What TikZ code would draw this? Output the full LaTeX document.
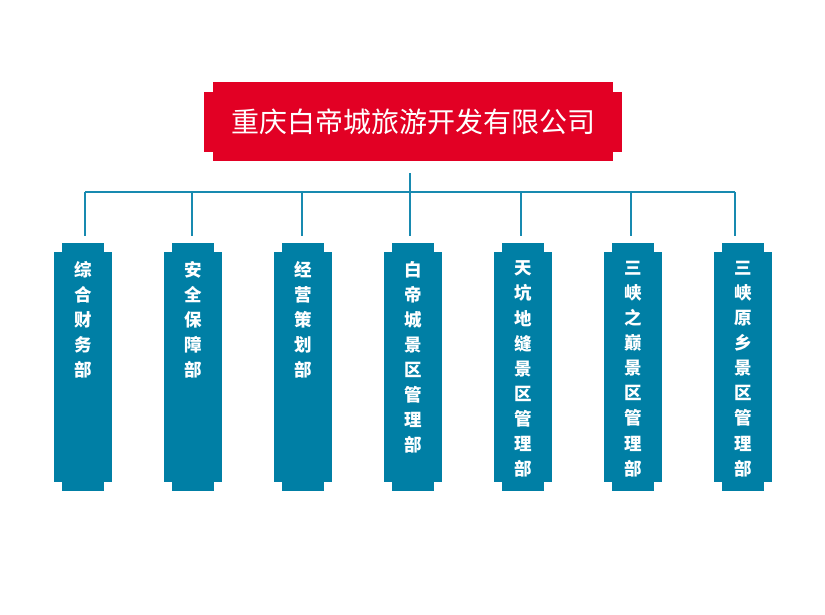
\documentclass[tikz,border=0pt]{standalone}
\usepackage{fontspec}
\setmainfont{Noto Sans CJK SC}
\usetikzlibrary{positioning,calc,backgrounds}
\definecolor{headred}{RGB}{226,0,36}
\definecolor{deptblue}{RGB}{0,127,165}
\definecolor{linkblue}{RGB}{24,138,176}
\tikzset{
    % company box
    head/.style={
           fill=headred,
           text=white,
           inner sep=0pt,
           minimum width=400pt,
           minimum height=79pt,
           font=\fontsize{28}{30}\selectfont},
    % department boxes
    dept/.style={
           fill=deptblue,
           inner sep=0pt,
           minimum width=42pt,
           minimum height=248pt},
    deptlabel/.style={
           anchor=north,
           text=white,
           inner sep=0pt,
           align=center,
           font=\fontsize{17.5}{25.1}\selectfont\bfseries},
    % connector style
    link/.style={
           draw=linkblue,
           line width=2pt}
}
\begin{document}
\begin{tikzpicture}[x=1pt,y=-1pt,node distance=110pt]
    \useasboundingbox (0,0) rectangle (825,615);

    % company
    \node[head](top) at (413,121.5){重庆白帝城旅游开发有限公司};

    % departments
    \node[dept](d1) at (83,367){};
    \node[dept, right of= d1](d2){};
    \node[dept, right of= d2](d3){};
    \node[dept, right of= d3](d4){};
    \node[dept, right of= d4](d5){};
    \node[dept, right of= d5](d6){};
    \node[dept, right of= d6](d7){};

    % department names
    \node[deptlabel] (t1) at ($(d1.north)+(0,18)$) {综\\合\\财\\务\\部};
    \node[deptlabel] (t2) at ($(d2.north)+(0,18)$) {安\\全\\保\\障\\部};
    \node[deptlabel] (t3) at ($(d3.north)+(0,18)$) {经\\营\\策\\划\\部};
    \node[deptlabel] (t4) at ($(d4.north)+(0,18)$) {白\\帝\\城\\景\\区\\管\\理\\部};
    \node[deptlabel] (t5) at ($(d5.north)+(0,18)$) {天\\坑\\地\\缝\\景\\区\\管\\理\\部};
    \node[deptlabel] (t6) at ($(d6.north)+(0,18)$) {三\\峡\\之\\巅\\景\\区\\管\\理\\部};
    \node[deptlabel] (t7) at ($(d7.north)+(0,18)$) {三\\峡\\原\\乡\\景\\区\\管\\理\\部};

    % stepped outlines
    \begin{scope}[on background layer]
        \fill[headred] ($(top.north west)+(-9,10)$) rectangle ($(top.south east)+(9,-9)$);
        \foreach \n in {d1,d2,d3,d4,d5,d6,d7}
            \fill[deptblue] ($(\n.north west)+(-8,9)$) rectangle ($(\n.south east)+(8,-9)$);
    \end{scope}

    % edges
    \draw[link] ($(top.south)+(-3,12)$) -- ($(d4.north)+(-3,-7)$);
    \draw[link] ($(d1.north)+(2,-51)$) -- ($(d7.north)+(-8,-51)$);
    \foreach \n/\dx in {d1/2,d2/-1,d3/-1,d5/-2,d6/-2,d7/-8}
        \draw[link] ($(\n.north)+(\dx,-51)$) -- ($(\n.north)+(\dx,-7)$);
\end{tikzpicture}
\end{document}
